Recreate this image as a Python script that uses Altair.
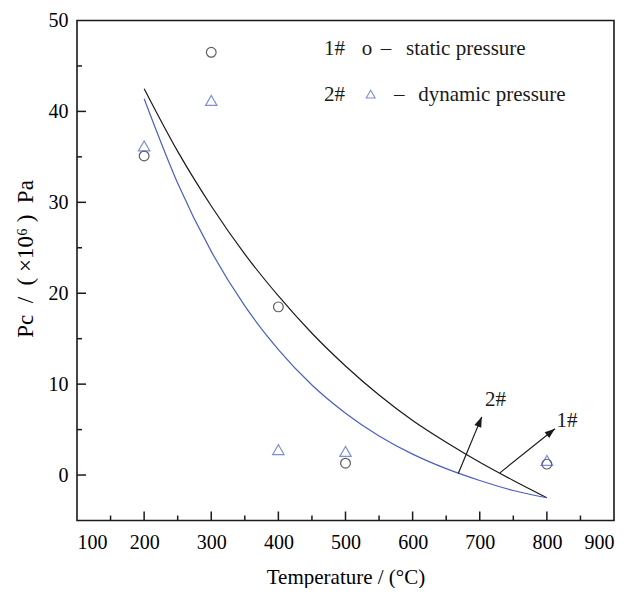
import altair as alt
import pandas as pd

# ---------------- data ----------------
temp_pts = [200, 300, 400, 500, 800]
static_p = [35.1, 46.5, 18.5, 1.3, 1.2]
dynamic_p = [36.2, 41.2, 2.8, 2.6, 1.6]

fit1_x = [200, 250, 300, 350, 400, 450, 500, 550, 600, 650, 700, 750, 800]
fit1_y = [42.5, 35.6, 29.6, 24.3, 19.7, 15.6, 12.0, 8.8, 6.0, 3.6, 1.4, -0.6, -2.5]
fit2_x = [200, 250, 300, 350, 400, 450, 500, 550, 600, 650, 700, 750, 800]
fit2_y = [41.4, 32.1, 24.6, 18.6, 13.8, 9.9, 6.8, 4.3, 2.3, 0.7, -0.6, -1.7, -2.5]

x_major = [200, 300, 400, 500, 600, 700, 800]
x_minor = [150, 250, 350, 450, 550, 650, 750, 850]
y_major = [0, 10, 20, 30, 40]
y_minor = [5, 15, 25, 35, 45]

arrow_labels = ["2#", "1#"]
arrow_x0 = [668, 730]
arrow_y0 = [0.16, 0.24]
arrow_x1 = [703, 812]
arrow_y1 = [6.4, 5.1]
arrow_angle = [22.4, 51.3]
label_x = [723.5, 830]
label_y = [8.3, 6.0]

FONT = "Liberation Serif"
BLACK = "#1a1a1a"
BLUE = "#4a5fc4"
SP = "\u2002"
NB = "\u00a0"

W, H = 537, 500
xs = alt.Scale(domain=[100, 900], nice=False, zero=False)
ys = alt.Scale(domain=[-5, 50], nice=False, zero=False)

pts = pd.DataFrame({"T": temp_pts, "s": static_p, "d": dynamic_p})
f1 = pd.DataFrame({"T": fit1_x, "P": fit1_y})
f2 = pd.DataFrame({"T": fit2_x, "P": fit2_y})

xaxis = alt.Axis(values=list(range(100, 901, 100)), format="d", ticks=False, tickSize=0,
                 domain=False, grid=False, labelFont=FONT, labelFontSize=20, labelColor="black",
                 labelPadding=12, title="Temperature / (°C)", titleFont=FONT, titleFontSize=21,
                 titleFontWeight="normal", titleColor="black", titlePadding=14)
yaxis = alt.Axis(values=list(range(0, 51, 10)), format="d", ticks=False, tickSize=0,
                 domain=False, grid=False, labelFont=FONT, labelFontSize=20, labelColor="black",
                 labelPadding=9,
                 title=f"Pc{SP}/{SP}({NB}×10⁶{NB}){SP}Pa",
                 titleFont=FONT, titleFontSize=23, titleFontWeight="normal", titleColor="black",
                 titleX=-52, titleY=238, titleAngle=270, titleBaseline="middle", titleAlign="center")

line1 = alt.Chart(f1).mark_line(color=BLACK, strokeWidth=1.2, interpolate="monotone").encode(
    x=alt.X("T:Q", scale=xs, axis=xaxis),
    y=alt.Y("P:Q", scale=ys, axis=yaxis),
)
line2 = alt.Chart(f2).mark_line(color=BLUE, strokeWidth=1.2, interpolate="monotone").encode(
    x=alt.X("T:Q", scale=xs), y=alt.Y("P:Q", scale=ys))

circ = alt.Chart(pts).mark_point(shape="circle", size=95, color=BLACK, strokeWidth=1.2,
                                 filled=False).encode(
    x=alt.X("T:Q", scale=xs), y=alt.Y("s:Q", scale=ys))
tri = alt.Chart(pts).mark_point(shape="triangle-up", size=130, color=BLUE, strokeWidth=1.2,
                                filled=False).encode(
    x=alt.X("T:Q", scale=xs), y=alt.Y("d:Q", scale=ys))

# inward ticks
xt_major = alt.Chart(pd.DataFrame({"v": x_major})).mark_rule(color=BLACK, strokeWidth=1.5).encode(
    x=alt.X("v:Q", scale=xs), y=alt.value(H), y2=alt.value(H - 9))
xt_minor = alt.Chart(pd.DataFrame({"v": x_minor})).mark_rule(color=BLACK, strokeWidth=1.5).encode(
    x=alt.X("v:Q", scale=xs), y=alt.value(H), y2=alt.value(H - 5))
yt_major = alt.Chart(pd.DataFrame({"v": y_major})).mark_rule(color=BLACK, strokeWidth=1.5).encode(
    y=alt.Y("v:Q", scale=ys), x=alt.value(0), x2=alt.value(9))
yt_minor = alt.Chart(pd.DataFrame({"v": y_minor})).mark_rule(color=BLACK, strokeWidth=1.5).encode(
    y=alt.Y("v:Q", scale=ys), x=alt.value(0), x2=alt.value(5))

# arrows and labels
arr = pd.DataFrame({"lab": arrow_labels, "x0": arrow_x0, "y0": arrow_y0, "x1": arrow_x1,
                    "y1": arrow_y1, "ang": arrow_angle, "lx": label_x, "ly": label_y})
arrow_lines = alt.Chart(arr).mark_rule(color=BLACK, strokeWidth=1.2).encode(
    x=alt.X("x0:Q", scale=xs), y=alt.Y("y0:Q", scale=ys), x2="x1:Q", y2="y1:Q")
heads = alt.layer(*[
    alt.Chart(arr.iloc[[i]]).mark_point(shape="M0,0L-0.36,1L0.36,1Z", size=420, filled=True,
                                        color=BLACK, opacity=1, angle=arrow_angle[i]).encode(
        x=alt.X("x1:Q", scale=xs), y=alt.Y("y1:Q", scale=ys))
    for i in range(2)
])
arrow_text = alt.Chart(arr).mark_text(font=FONT, fontSize=21, color=BLACK).encode(
    x=alt.X("lx:Q", scale=xs), y=alt.Y("ly:Q", scale=ys), text="lab:N")

# legend text block
leg = pd.DataFrame({
    "t": ["1#", "o", "–", "static pressure", "2#", "–", "dynamic pressure"],
    "x": [468, 532, 560.5, 590.3, 468, 580, 608.2],
    "y": [46.9, 46.9, 46.9, 46.9, 41.8, 41.8, 41.8],
    "al": ["left", "center", "center", "left", "left", "center", "left"],
})
leg_left = alt.Chart(leg[leg["al"] == "left"]).mark_text(font=FONT, fontSize=21, color=BLACK,
                                                         align="left", baseline="middle").encode(
    x=alt.X("x:Q", scale=xs), y=alt.Y("y:Q", scale=ys), text="t:N")
leg_center = alt.Chart(leg[leg["al"] == "center"]).mark_text(font=FONT, fontSize=21, color=BLACK,
                                                             align="center", baseline="middle").encode(
    x=alt.X("x:Q", scale=xs), y=alt.Y("y:Q", scale=ys), text="t:N")
leg_tri = alt.Chart(pd.DataFrame({"x": [537.5], "y": [41.9]})).mark_point(
    shape="triangle-up", size=80, color=BLUE, strokeWidth=1.1, filled=False).encode(
    x=alt.X("x:Q", scale=xs), y=alt.Y("y:Q", scale=ys))

chart = alt.layer(
    line1, line2, circ, tri, xt_major, xt_minor, yt_major, yt_minor,
    arrow_lines, heads, arrow_text, leg_left, leg_center, leg_tri,
).properties(
    width=W, height=H,
    autosize=alt.AutoSizeParams(type="none"),
    padding={"left": 69, "top": 12.5, "right": 5, "bottom": 67},
    background="white",
).configure_view(stroke=BLACK, strokeWidth=1.6)

chart.save("out.html", embed_options={"renderer": "svg", "actions": False})
